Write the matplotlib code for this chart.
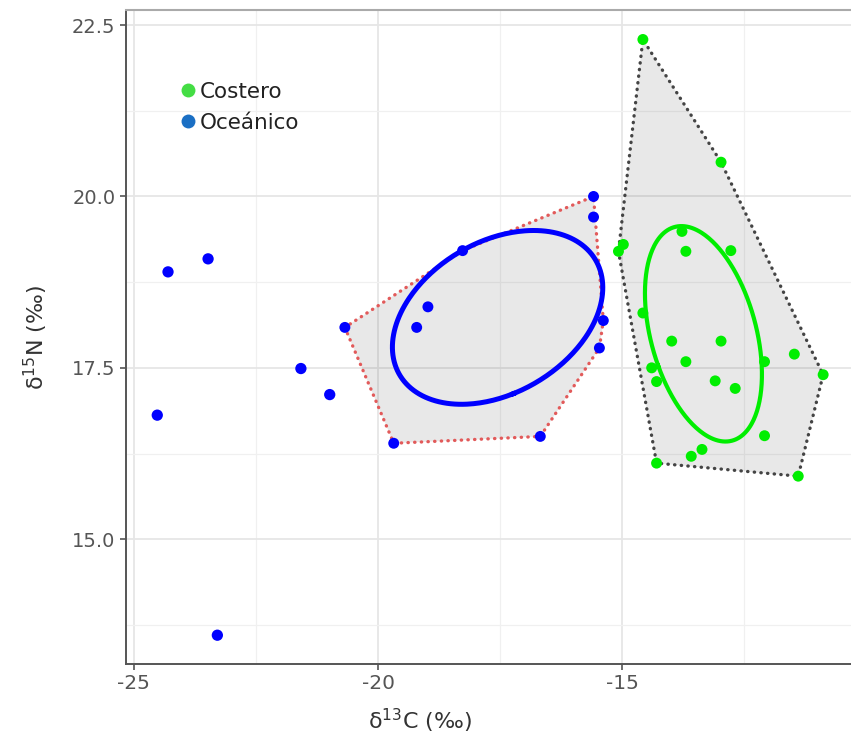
import numpy as np
import matplotlib
matplotlib.use("Agg")
import matplotlib.pyplot as plt
from matplotlib.lines import Line2D

# ---------------- data ----------------
costero_x = [-15.08, -14.98, -13.78, -13.70, -12.78, -14.58, -13.99, -12.98, -13.70, -12.09,
             -11.48, -10.89, -14.40, -14.30, -13.10, -12.69, -12.09, -13.37, -13.59, -14.30,
             -11.40, -14.58, -12.98]
costero_y = [19.20, 19.30, 19.49, 19.20, 19.21, 18.30, 17.89, 17.89, 17.59, 17.59,
             17.70, 17.40, 17.50, 17.30, 17.31, 17.20, 16.51, 16.31, 16.21, 16.11,
             15.92, 22.29, 20.50]

oceanico_x = [-20.68, -19.68, -19.21, -18.98, -18.27, -16.68, -15.59, -15.59, -15.39, -15.47]
oceanico_y = [18.09, 16.40, 18.09, 18.39, 19.21, 16.50, 20.00, 19.70, 18.19, 17.79]

oceanico_extra_x = [-24.52, -24.30, -23.48, -23.29, -21.58, -20.99]
oceanico_extra_y = [16.81, 18.90, 19.09, 13.60, 17.49, 17.11]

legend_labels = ["Costero", "Oceánico"]
x_ticks = [-25, -20, -15]
y_ticks = [15.0, 17.5, 20.0, 22.5]


def convex_hull(xs, ys):
    pts = sorted(set(zip(xs, ys)))
    def cross(o, a, b):
        return (a[0] - o[0]) * (b[1] - o[1]) - (a[1] - o[1]) * (b[0] - o[0])
    lower, upper = [], []
    for p in pts:
        while len(lower) >= 2 and cross(lower[-2], lower[-1], p) <= 0:
            lower.pop()
        lower.append(p)
    for p in reversed(pts):
        while len(upper) >= 2 and cross(upper[-2], upper[-1], p) <= 0:
            upper.pop()
        upper.append(p)
    return np.array(lower[:-1] + upper[:-1])


def sea_c(xs, ys, n_pts=300):
    xs, ys = np.asarray(xs), np.asarray(ys)
    n = len(xs)
    cov = np.cov(xs, ys) * (n - 1) / (n - 2)
    vals, vecs = np.linalg.eigh(cov)
    t = np.linspace(0, 2 * np.pi, n_pts)
    circ = np.vstack([np.cos(t), np.sin(t)])
    pts = vecs @ np.diag(np.sqrt(vals)) @ circ
    return xs.mean() + pts[0], ys.mean() + pts[1]


# ---------------- figure ----------------
plt.rcParams['font.family'] = ['DejaVu Sans']
fig = plt.figure(figsize=(8.51, 7.38), dpi=100)
ax = fig.add_axes([126 / 851, 1 - 664 / 738, 1 - 126 / 851, (664 - 10) / 738])

ax.set_xlim(-25.16, -10.32)
ax.set_ylim(13.18, 22.72)

# grid
ax.set_xticks(x_ticks)
ax.set_yticks(y_ticks)
ax.set_xticks([-22.5, -17.5, -12.5], minor=True)
ax.set_yticks([13.75, 16.25, 18.75, 21.25], minor=True)
ax.grid(which='major', color='#e6e6e6', linewidth=1.3, zorder=0)
ax.grid(which='minor', color='#f0f0f0', linewidth=0.9, zorder=0)
ax.set_axisbelow(True)
ax.tick_params(which='minor', length=0)

# hulls
h_c = convex_hull(costero_x, costero_y)
h_o = convex_hull(oceanico_x, oceanico_y)
for h, ec in [(h_c, '#444444'), (h_o, '#e25a5a')]:
    ax.fill(h[:, 0], h[:, 1], facecolor='black', alpha=0.09, edgecolor='none', zorder=1)
    hc = np.vstack([h, h[:1]])
    ax.plot(hc[:, 0], hc[:, 1], color=ec, linewidth=2.4, linestyle=(0, (0.1, 1.9)),
            dash_capstyle='round', zorder=2)

# ellipses
ex, ey = sea_c(oceanico_x, oceanico_y)
ax.plot(ex, ey, color='#0000ff', linewidth=3.6, zorder=3)
ex, ey = sea_c(costero_x, costero_y)
ax.plot(ex, ey, color='#00ee00', linewidth=3.0, zorder=3)

# points
ax.scatter(oceanico_extra_x, oceanico_extra_y, s=66, color='#0000ff', edgecolors='none', zorder=4)
ax.scatter(oceanico_x, oceanico_y, s=62, color='#0000ff', edgecolors='none', zorder=4)
ax.scatter(costero_x, costero_y, s=62, color='#00ee00', edgecolors='none', zorder=4)

# spines
ax.spines['right'].set_visible(False)
ax.spines['top'].set_color('#aaaaaa')
ax.spines['top'].set_linewidth(1.5)
for s in ['left', 'bottom']:
    ax.spines[s].set_color('#555555')
    ax.spines[s].set_linewidth(1.4)

ax.tick_params(which='major', direction='out', length=4, width=1.2, color='#555555',
               labelcolor='#555555')
ax.set_xticklabels(['-25', '-20', '-15'], fontsize=14.5)
ax.set_yticklabels(['15.0', '17.5', '20.0', '22.5'], fontsize=14)

ax.set_xlabel(r'$\mathregular{\delta^{13}}$C (‰)', fontsize=16, color='#333333')
ax.xaxis.set_label_coords(0.405, -0.065)
ax.set_ylabel(r'$\mathregular{\delta^{15}}$N (‰)', fontsize=16, color='#333333')
ax.yaxis.set_label_coords(-0.105, 0.5)

handles = [Line2D([], [], marker='o', linestyle='none', markersize=10,
                  markerfacecolor='#44dd44', markeredgecolor='none'),
           Line2D([], [], marker='o', linestyle='none', markersize=10,
                  markerfacecolor='#1a6fc4', markeredgecolor='none')]
leg = ax.legend(handles, legend_labels, loc='upper left', bbox_to_anchor=(0.05, 0.913),
                frameon=False, fontsize=15.5, handletextpad=0.05, labelspacing=0.5,
                handlelength=1.0, borderpad=0.2)
for t in leg.get_texts():
    t.set_color('#222222')

fig.savefig('out.png', dpi=100)
